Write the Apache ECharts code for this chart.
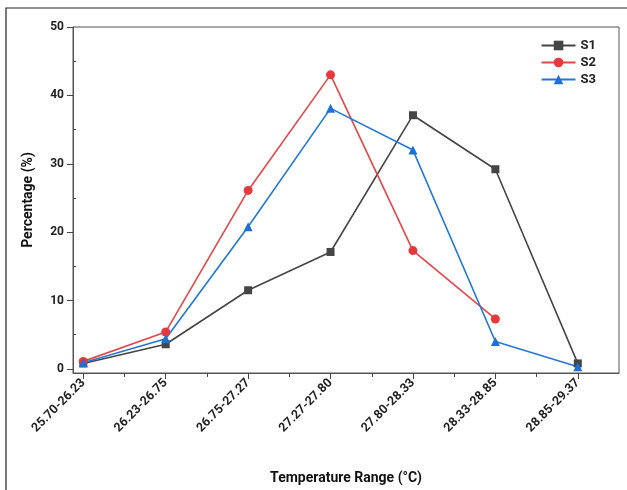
<!DOCTYPE html>
<html><head><meta charset="utf-8">
<script src="https://cdn.jsdelivr.net/npm/echarts@6/dist/echarts.min.js"></script>
<style>html,body{margin:0;padding:0;background:#fff}#c{width:627px;height:490px}</style>
</head><body><div id="c"></div>
<script>
const categories = ['25.70-26.23','26.23-26.75','26.75-27.27','27.27-27.80','27.80-28.33','28.33-28.85','28.85-29.37'];
const s1 = [0.8, 3.6, 11.5, 17.1, 37.1, 29.2, 0.8];
const s2 = [1.1, 5.4, 26.1, 43.0, 17.3, 7.3, null];
const s3 = [0.9, 4.4, 20.8, 38.1, 32.0, 4.0, 0.3];
const yTicks = [0, 10, 20, 30, 40, 50];
const yMinor = [5, 15, 25, 35, 45];
const xMinor = [0.5, 1.5, 2.5, 3.5, 4.5, 5.5];

const FONT = "'Roboto', 'Liberation Sans', sans-serif";
const idx = categories.map((_, i) => i);
const pts = a => a.map((v, i) => v == null ? null : [i, v]).filter(p => p);

const chart = echarts.init(document.getElementById('c'), null, {renderer: 'canvas'});
chart.setOption({
  animation: false,
  backgroundColor: '#fff',
  graphic: [{
    type: 'rect', shape: {x: 6, y: 8, width: 660, height: 520},
    style: {fill: 'none', stroke: '#222', lineWidth: 1.2}, z: -1
  }],
  grid: {left: 73, right: 8, top: 27, bottom: 117, show: true, borderColor: '#555', borderWidth: 1},
  legend: {
    orient: 'vertical', right: 26, top: 34, itemGap: 4, itemWidth: 34, itemHeight: 12,
    textStyle: {fontFamily: FONT, fontSize: 13, fontWeight: 'bold', color: '#222'},
    data: ['S1', 'S2', 'S3']
  },
  xAxis: [{
    type: 'value', min: -0.125, max: 6.5,
    name: 'Temperature Range (°C)', nameLocation: 'middle', nameGap: 98,
    nameTextStyle: {fontFamily: FONT, fontSize: 14, fontWeight: 'bold', color: '#111'},
    axisLine: {show: true, onZero: false, lineStyle: {color: '#555', width: 1}},
    axisTick: {show: true, inside: false, length: 6, customValues: idx, lineStyle: {color: '#444'}},
    axisLabel: {
      customValues: idx, rotate: 45, margin: 8,
      fontFamily: FONT, fontSize: 12.5, fontWeight: 'bold', color: '#222',
      formatter: v => categories[Math.round(v)]
    },
    splitLine: {show: false}
  }, {
    type: 'value', min: -0.125, max: 6.5, position: 'bottom', gridIndex: 0,
    axisLine: {show: false, onZero: false},
    axisTick: {show: true, length: 4, customValues: xMinor, lineStyle: {color: '#444'}},
    axisLabel: {show: false},
    splitLine: {show: false}
  }],
  yAxis: [{
    type: 'value', min: -0.6, max: 50,
    name: 'Percentage (%)', nameLocation: 'middle', nameGap: 38,
    nameTextStyle: {fontFamily: FONT, fontSize: 14, fontWeight: 'bold', color: '#111'},
    axisLine: {show: true, onZero: false, lineStyle: {color: '#555', width: 1}},
    axisTick: {show: true, length: 6, customValues: yTicks, lineStyle: {color: '#444'}},
    axisLabel: {customValues: yTicks, fontFamily: FONT, fontSize: 12, fontWeight: 'bold', color: '#222', margin: 9},
    splitLine: {show: false}
  }, {
    type: 'value', min: -0.6, max: 50, position: 'left', offset: 0,
    axisLine: {show: false, onZero: false},
    axisTick: {show: true, inside: true, length: 3, customValues: yMinor, lineStyle: {color: '#444'}},
    axisLabel: {show: false},
    splitLine: {show: false}
  }],
  series: [
    {name: 'S1', type: 'line', data: pts(s1), symbol: 'rect', symbolSize: 8,
     itemStyle: {color: '#454545'}, lineStyle: {color: '#454545', width: 1.6}},
    {name: 'S2', type: 'line', data: pts(s2), symbol: 'circle', symbolSize: 9,
     itemStyle: {color: '#e5393b'}, lineStyle: {color: '#e0484a', width: 1.6}},
    {name: 'S3', type: 'line', data: pts(s3), symbol: 'triangle', symbolSize: 9,
     itemStyle: {color: '#1e6fd6'}, lineStyle: {color: '#2377d8', width: 1.6}}
  ]
});
</script></body></html>
